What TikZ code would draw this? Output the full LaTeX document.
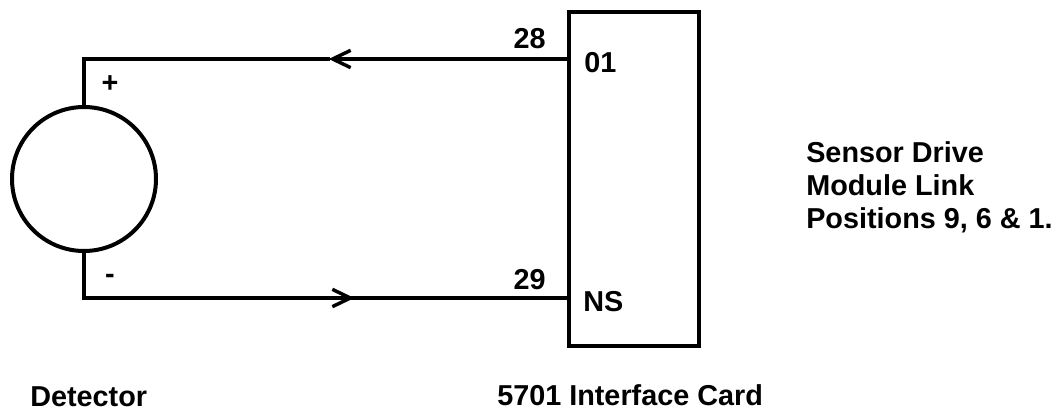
\documentclass[tikz,border=0pt]{standalone}
\usepackage{fontspec}
\setmainfont{Liberation Sans}
\usetikzlibrary{arrows.meta}

\tikzset{
    wire/.style={line width=3pt},
    barb/.style={wire, -{Straight Barb[length=13.5pt, width=13pt, line width=2.6pt]}, shorten >=-1pt},
    label/.style={inner sep=0pt, font=\fontsize{21.6}{24.75}\selectfont\bfseries},
}

\begin{document}
\begin{tikzpicture}[x=0.75pt, y=-0.75pt]
    \useasboundingbox (0 , 0) rectangle (1062 , 410);

    \node [draw, wire, circle, inner sep=0pt, minimum size=108pt] (det) at (84 , 179) {};
    \node [draw, wire, inner sep=0pt, minimum width=97.5pt, minimum height=251pt] (card) at (634 , 179) {};
    \coordinate (pin01) at (card.west |- 0 , 59);
    \coordinate (pinNS) at (card.west |- 0 , 298);
    \coordinate (tip01) at (330 , 59);
    \coordinate (tipNS) at (353 , 298);

    \draw [wire, line join=miter] (det.north) |- (tip01);
    \draw [wire, line join=miter] (det.south) |- (tipNS);
    \draw [barb] (pin01) -- (tip01);
    \draw [wire] (tipNS) -- (pinNS);
    \draw [barb] (det.south |- pinNS) -- (tipNS);

    \node [label, anchor=base] (plus) at (110 , 92) {+};
    \node [label, anchor=base] (minus) at (110 , 283) {-};
    \node [label, anchor=base east] (n28) at (546 , 49) {28};
    \node [label, anchor=base east] (n29) at (546 , 289) {29};
    \node [label, anchor=base west] (p01) at (584 , 73) {01};
    \node [label, anchor=base west] (pNS) at (583 , 311) {NS};
    \node [label, anchor=base west] (cardname) at (497 , 405) {5701 Interface Card};
    \node [label, anchor=base west] (detname) at (30 , 406) {Detector};
    \node [label, anchor=north west, align=left] (link) at (806 , 141) {Sensor Drive\\Module Link\\Positions 9, 6 \& 1.};
\end{tikzpicture}
\end{document}
